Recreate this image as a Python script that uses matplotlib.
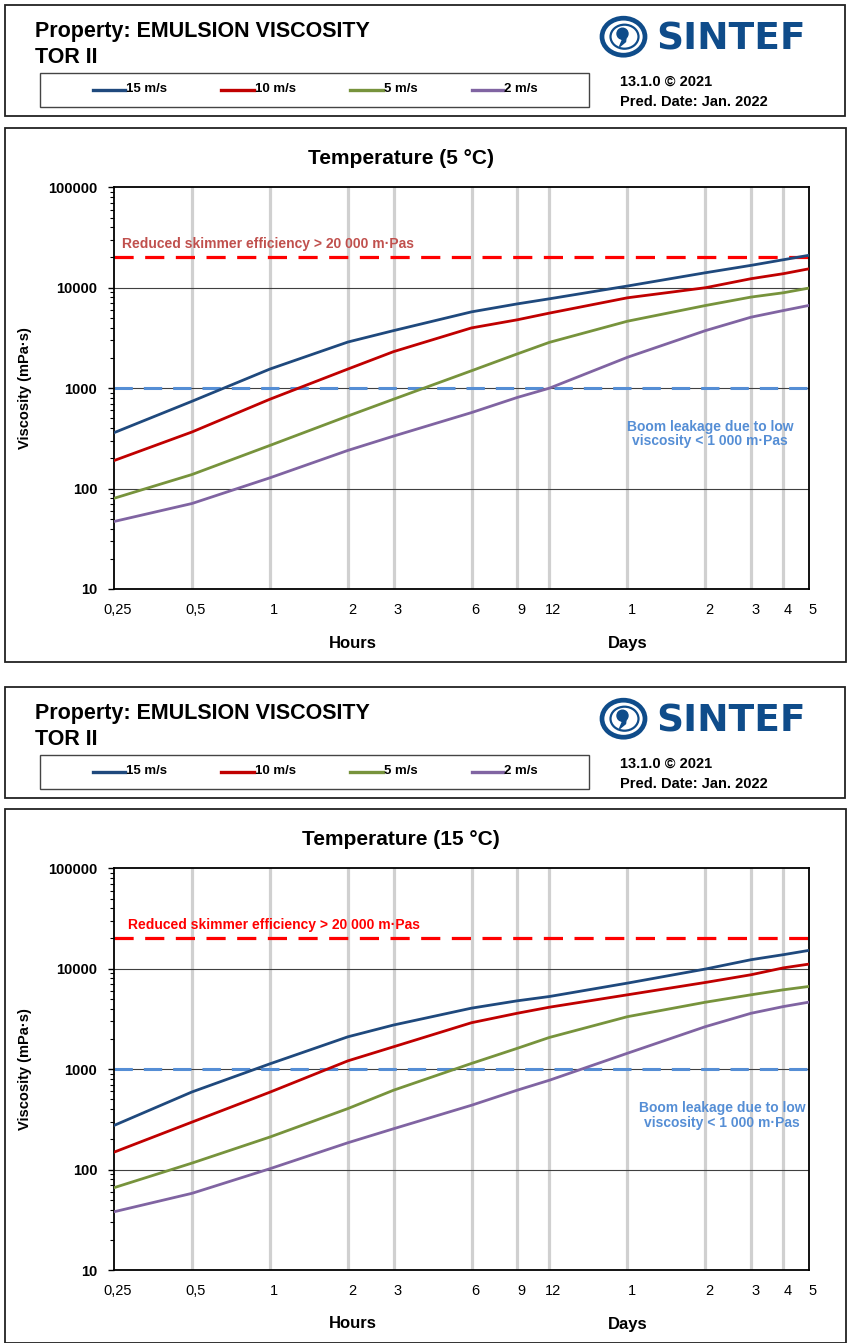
import matplotlib
matplotlib.use("Agg")
import matplotlib.pyplot as plt
from matplotlib.patches import Rectangle, Ellipse, Polygon
from matplotlib.lines import Line2D
from matplotlib.ticker import FixedLocator, NullLocator, LogLocator, FuncFormatter
from matplotlib.transforms import ScaledTranslation

plt.rcParams['font.family'] = ['Liberation Sans', 'DejaVu Sans']

W, H = 850, 1343

# time axis (hours) and tick labels
hours = [0.25, 0.5, 1, 2, 3, 6, 9, 12, 24, 48, 72, 96, 120]
tick_hours = [0.25, 0.5, 1, 2, 3, 6, 9, 12, 24, 48, 72, 96, 120]
tick_labels = ['0,25', '0,5', '1', '2', '3', '6', '9', '12', '1', '2', '3', '4', '5']

wind_labels = ['15 m/s', '10 m/s', '5 m/s', '2 m/s']
colors = ['#1F497D', '#C00000', '#77933C', '#8064A2']

# viscosity (mPa.s), 5 C
visc5_w15 = [360, 740, 1550, 2880, 3740, 5750, 6900, 7760, 10400, 14100, 16700, 19000, 21000]
visc5_w10 = [190, 366, 776, 1550, 2310, 3980, 4790, 5590, 7940, 10000, 12300, 13800, 15400]
visc5_w5 = [80, 138, 269, 528, 776, 1490, 2190, 2860, 4640, 6650, 8070, 8910, 9900]
visc5_w2 = [47, 71, 128, 240, 333, 571, 807, 1000, 2030, 3740, 5090, 5930, 6650]

# 15 C
visc15_w15 = [275, 593, 1130, 2100, 2750, 4050, 4790, 5290, 7190, 9930, 12300, 13800, 15200]
visc15_w10 = [149, 297, 590, 1210, 1670, 2900, 3600, 4140, 5500, 7300, 8710, 10200, 11100]
visc15_w5 = [66, 116, 211, 405, 617, 1140, 1610, 2070, 3330, 4640, 5500, 6170, 6650]
visc15_w2 = [38, 58, 102, 185, 255, 437, 617, 776, 1440, 2650, 3600, 4200, 4640]

skimmer_limit = 20000
leakage_limit = 1000

fig = plt.figure(figsize=(W / 100, H / 100), dpi=100)


def fx(x):
    return x / W


def fy(y):
    return 1 - y / H


def box(x0, y0, x1, y1, lw=1.3, ec='#222222'):
    fig.add_artist(Rectangle((fx(x0), fy(y1)), (x1 - x0) / W, (y1 - y0) / H,
                             transform=fig.transFigure, fill=False, ec=ec, lw=lw))


def draw_logo(dy):
    blue = '#0F4C8A'
    cx, cy = 623.5, 36.7 + dy
    fig.add_artist(Ellipse((fx(cx), fy(cy)), 43 / W, 37 / H, transform=fig.transFigure,
                           fill=False, ec=blue, lw=3.4))
    fig.add_artist(Ellipse((fx(cx + 1), fy(cy)), 28 / W, 24 / H, transform=fig.transFigure,
                           fill=False, ec=blue, lw=1.6))
    fig.add_artist(Ellipse((fx(cx - 1), fy(cy - 3)), 11 / W, 11 / H, transform=fig.transFigure,
                           color=blue))
    tail = [(cx + 3, cy - 3), (cx + 2, cy + 5), (cx - 4, cy + 10), (cx - 1, cy + 3), (cx - 4, cy)]
    fig.add_artist(Polygon([(fx(a), fy(b)) for a, b in tail], closed=True,
                           transform=fig.transFigure, color=blue))
    fig.text(fx(656), fy(39.5 + dy), 'SINTEF', color=blue, fontsize=27, fontweight='bold',
             family='DejaVu Sans', va='center', ha='left')


def draw_header(dy):
    box(5, 5 + dy, 845, 116 + dy)
    fig.text(fx(35), fy(32 + dy), 'Property: EMULSION VISCOSITY', fontsize=15.5,
             fontweight='bold', va='center')
    fig.text(fx(35), fy(57.5 + dy), 'TOR II', fontsize=15.5, fontweight='bold', va='center')
    box(40, 73 + dy, 589, 106.5 + dy, lw=1.0, ec='#444444')
    segs = [(93, 125), (221, 254), (350, 383), (471.5, 503)]
    for (a, b), lab, c in zip(segs, wind_labels, colors):
        fig.add_artist(Line2D([fx(a), fx(b)], [fy(89.5 + dy)] * 2, color=c, lw=2.4,
                              transform=fig.transFigure))
        fig.text(fx(b + 1), fy(89.5 + dy), lab, fontsize=9.5, fontweight='bold', va='center')
    fig.text(fx(620.5), fy(82 + dy), '13.1.0 \u00a9 2021', fontsize=10.5, fontweight='bold',
             va='center')
    fig.text(fx(620.5), fy(102 + dy), 'Pred. Date: Jan. 2022', fontsize=10.5,
             fontweight='bold', va='center')
    draw_logo(dy)


def draw_panel(dy, title, series, red_col, red_x, blue_xy):
    box(5, 128 + dy, 845.5, 661.5 + dy)
    ax = fig.add_axes([fx(114), fy(589 + dy), (808.5 - 114) / W, (589 - 187.3) / H])
    ax.set_xscale('log')
    ax.set_yscale('log')
    ax.set_xlim(0.25, 120)
    ax.set_ylim(10, 100000)

    for h in tick_hours[1:-1]:
        ax.axvline(h, color='#D0D0D0', lw=2.3, zorder=0)
    for v in [100, 1000, 10000]:
        ax.axhline(v, color='#404040', lw=0.8, zorder=1)

    ax.axhline(skimmer_limit, color='#FF0000', lw=2.3, dashes=(6, 3.6), zorder=2)
    ax.axhline(leakage_limit, color='#558ED5', lw=2.2, dashes=(6, 3.6), zorder=2)

    for vals, c in zip(series, colors):
        ax.plot(hours, vals, color=c, lw=2.0, zorder=4, solid_joinstyle='round')

    ax.xaxis.set_major_locator(FixedLocator(tick_hours))
    ax.xaxis.set_minor_locator(NullLocator())
    ax.set_xticklabels(tick_labels, fontsize=10.5)
    ax.tick_params(axis='x', length=0, pad=10)
    off = ScaledTranslation(4 / 100, 0, fig.dpi_scale_trans)
    for lab in ax.get_xticklabels():
        lab.set_transform(lab.get_transform() + off)

    ax.yaxis.set_major_locator(FixedLocator([10, 100, 1000, 10000, 100000]))
    ax.yaxis.set_minor_locator(LogLocator(base=10, subs=range(2, 10)))
    ax.yaxis.set_major_formatter(FuncFormatter(lambda v, p: f'{v:g}'))
    ax.tick_params(axis='y', which='major', direction='out', length=4, width=1, pad=8,
                   labelsize=10.5)
    ax.tick_params(axis='y', which='minor', direction='out', length=3, width=0.8)
    for lab in ax.get_yticklabels():
        lab.set_fontweight('bold')
    for s in ax.spines.values():
        s.set_color('black')
        s.set_linewidth(1.3)

    ax.set_ylabel('Viscosity (mPa\u00b7s)', fontsize=10.5, fontweight='bold')
    ax.yaxis.set_label_coords((32 - 114) / 694.5, 0.5)

    fig.text(fx(401), fy(158.5 + dy), title, fontsize=15, fontweight='bold',
             ha='center', va='center')
    fig.text(fx(353), fy(643 + dy), 'Hours', fontsize=12, fontweight='bold',
             ha='center', va='center')
    fig.text(fx(628), fy(643 + dy), 'Days', fontsize=12, fontweight='bold',
             ha='center', va='center')
    fig.text(fx(red_x), fy(244 + dy), 'Reduced skimmer efficiency > 20 000 m\u00b7Pas',
             color=red_col, fontsize=10, fontweight='bold', va='center', ha='left')
    fig.text(fx(blue_xy[0]), fy(blue_xy[1] + dy), 'Boom leakage due to low\nviscosity < 1 000 m\u00b7Pas',
             color='#558ED5', fontsize=10, fontweight='bold', va='center', ha='center',
             multialignment='center', linespacing=1.05)
    return ax


draw_header(0)
draw_panel(0, 'Temperature (5 \u00b0C)', [visc5_w15, visc5_w10, visc5_w5, visc5_w2],
           '#C0504D', 121.5, (710, 434))
draw_header(682)
draw_panel(681, 'Temperature (15 \u00b0C)', [visc15_w15, visc15_w10, visc15_w5, visc15_w2],
           '#FF0000', 128, (722, 434.5))

fig.savefig('out.png', dpi=100)
